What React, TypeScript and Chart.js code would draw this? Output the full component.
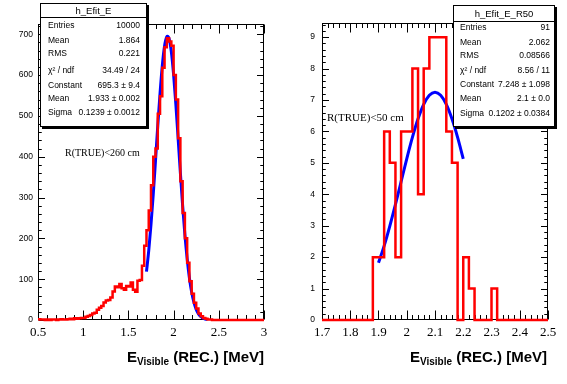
import React, { useEffect, useRef } from "react";
import { Chart, registerables } from "chart.js";

Chart.register(...registerables);

// ---------------- Left panel data ----------------
const leftBinLow = 0.5;
const leftBinWidth = 0.025;
const leftCounts = [
  2, 1, 1, 0, 1, 0, 1, 1, 0, 1,
  2, 1, 1, 2, 3, 2, 4, 3, 4, 5,
  5, 8, 10, 12, 16, 18, 25, 30, 34, 43,
  48, 49, 55, 70, 82, 80, 88, 78, 74, 83,
  82, 92, 74, 69, 96, 98, 133, 182, 220, 268,
  330, 400, 420, 505, 548, 618, 668, 690, 682, 672,
  600, 540, 445, 340, 262, 200, 140, 95, 64, 42,
  28, 16, 9, 5, 3, 1, 1, 0, 0, 0,
  0, 0, 0, 0, 0, 0, 0, 0, 0, 0,
  0, 0, 0, 0, 0, 0, 0, 0, 0, 0,
];
const leftFitX = [
  1.7, 1.725, 1.75, 1.775, 1.8, 1.825, 1.85, 1.875, 1.9, 1.925, 1.933, 1.95, 1.975, 2.0,
  2.025, 2.05, 2.075, 2.1, 2.125, 2.15, 2.175, 2.2, 2.225, 2.25, 2.275, 2.3, 2.325, 2.35, 2.375,
];
const leftFitY = [
  118.5, 170, 234, 308, 391, 476, 555, 623, 671, 694, 695.3, 689, 657, 601,
  528, 445, 360, 280, 209, 150, 103, 68, 43, 26, 15, 8.6, 4.7, 2.4, 1.2,
];
const leftXTicks = [0.5, 1, 1.5, 2, 2.5, 3];
const leftXTickLabels = ["0.5", "1", "1.5", "2", "2.5", "3"];
const leftYTicks = [0, 100, 200, 300, 400, 500, 600, 700];
const leftYTickLabels = ["0", "100", "200", "300", "400", "500", "600", "700"];
const leftStatTitle = "h_Efit_E";
const leftStatLabels = ["Entries", "Mean", "RMS", "χ² / ndf", "Constant", "Mean", "Sigma"];
const leftStatValues = ["10000", "1.864", "0.221", "34.49 / 24", "695.3 ± 9.4", "1.933 ± 0.002", "0.1239 ± 0.0012"];
const leftNote = "R(TRUE)<260 cm";

// ---------------- Right panel data ----------------
const rightBinLow = 1.7;
const rightBinWidth = 0.02;
const rightCounts = [
  0, 0, 0, 0, 0, 0, 0, 0, 0, 2,
  2, 6, 5, 2, 6, 6, 8, 4, 8, 9,
  9, 9, 6, 5, 0, 2, 1, 0, 0, 0,
  1, 0, 0, 0, 0, 0, 0, 0, 0, 0,
];
const rightFitX = [1.9, 1.92, 1.94, 1.96, 1.98, 2.0, 2.02, 2.04, 2.06, 2.08, 2.1, 2.12, 2.14, 2.16, 2.18, 2.2];
const rightFitY = [1.82, 2.36, 2.99, 3.68, 4.4, 5.13, 5.81, 6.4, 6.86, 7.15, 7.248, 7.15, 6.86, 6.4, 5.81, 5.13];
const rightXTicks = [1.7, 1.8, 1.9, 2.0, 2.1, 2.2, 2.3, 2.4, 2.5];
const rightXTickLabels = ["1.7", "1.8", "1.9", "2", "2.1", "2.2", "2.3", "2.4", "2.5"];
const rightYTicks = [0, 1, 2, 3, 4, 5, 6, 7, 8, 9];
const rightYTickLabels = ["0", "1", "2", "3", "4", "5", "6", "7", "8", "9"];
const rightStatTitle = "h_Efit_E_R50";
const rightStatLabels = ["Entries", "Mean", "RMS", "χ² / ndf", "Constant", "Mean", "Sigma"];
const rightStatValues = ["91", "2.062", "0.08566", "8.56 / 11", "7.248 ± 1.098", "2.1 ± 0.0", "0.1202 ± 0.0384"];
const rightNote = "R(TRUE)<50 cm";

const axisTitleMain = "E";
const axisTitleSub = "Visible";
const axisTitleRest = " (REC.) [MeV]";

// ---------------- helpers ----------------
function histPoints(low: number, width: number, counts: number[]) {
  const pts: { x: number; y: number }[] = [];
  for (let i = 0; i < counts.length; i++) {
    pts.push({ x: +(low + i * width).toFixed(6), y: counts[i] });
  }
  pts.push({ x: +(low + counts.length * width).toFixed(6), y: counts[counts.length - 1] });
  return pts;
}

const rootFrame = {
  id: "rootFrame",
  beforeDatasetsDraw(chart: any, _args: any, opts: any) {
    const { ctx, chartArea: a } = chart;
    const xs = chart.scales.x;
    const ys = chart.scales.y;
    ctx.save();
    ctx.strokeStyle = "#000";
    ctx.lineWidth = 1;
    const L = Math.round(a.left) + 0.5;
    const R = Math.round(a.right) - 0.5;
    const T = Math.round(a.top) + 0.5;
    const B = Math.round(a.bottom) - 0.5;
    ctx.strokeRect(L, T, R - L, B - T);
    ctx.beginPath();
    const nx = Math.round((xs.max - xs.min) / opts.xMinor);
    for (let i = 0; i <= nx; i++) {
      const v = xs.min + i * opts.xMinor;
      const major = opts.xMajor.some((m: number) => Math.abs(m - v) < opts.xMinor / 10);
      const len = major ? opts.xLen : opts.xLen / 2;
      const p = Math.round(xs.getPixelForValue(v)) + 0.5;
      ctx.moveTo(p, B);
      ctx.lineTo(p, B - len);
      ctx.moveTo(p, T);
      ctx.lineTo(p, T + len);
    }
    const ny = Math.floor((ys.max - ys.min) / opts.yMinor + 1e-6);
    for (let i = 0; i <= ny; i++) {
      const v = ys.min + i * opts.yMinor;
      const major = opts.yMajor.some((m: number) => Math.abs(m - v) < opts.yMinor / 10);
      const len = major ? opts.yLen : opts.yLen / 2;
      const p = Math.round(ys.getPixelForValue(v)) + 0.5;
      ctx.moveTo(L, p);
      ctx.lineTo(L + len, p);
      ctx.moveTo(R, p);
      ctx.lineTo(R - len, p);
    }
    ctx.stroke();
    ctx.restore();
  },
};

function makeConfig(p: {
  low: number; width: number; counts: number[]; fitX: number[]; fitY: number[];
  xMin: number; xMax: number; yMax: number;
  xTicks: number[]; xLabels: string[]; yTicks: number[]; yLabels: string[];
  xMinor: number; yMinor: number; padTop: number; axisW: number; padRight: number; yPad: number;
}): any {
  return {
    type: "scatter",
    data: {
      datasets: [
        {
          data: histPoints(p.low, p.width, p.counts),
          showLine: true,
          stepped: "before",
          borderColor: "#ff0000",
          borderWidth: 2.5,
          pointRadius: 0,
          clip: 4,
        },
        {
          data: p.fitX.map((x, i) => ({ x, y: p.fitY[i] })),
          showLine: true,
          borderColor: "#0000ff",
          borderWidth: 3,
          pointRadius: 0,
          cubicInterpolationMode: "monotone",
          clip: 4,
        },
      ],
    },
    options: {
      responsive: false,
      animation: false,
      events: [],
      layout: { padding: { top: p.padTop, right: p.padRight, left: 0, bottom: 0 } },
      plugins: {
        legend: { display: false },
        tooltip: { enabled: false },
        rootFrame: { xMinor: p.xMinor, yMinor: p.yMinor, xMajor: p.xTicks, yMajor: p.yTicks, xLen: 9, yLen: 6.5 },
      },
      scales: {
        x: {
          type: "linear",
          min: p.xMin,
          max: p.xMax,
          grid: { display: false, drawTicks: false },
          border: { display: false },
          afterBuildTicks: (s: any) => {
            s.ticks = p.xTicks.map((v) => ({ value: v }));
          },
          afterFit: (s: any) => {
            s.height = 64;
          },
          ticks: {
            autoSkip: false,
            maxRotation: 0,
            padding: 5,
            color: "#000",
            font: { family: "'Liberation Serif', 'Times New Roman', serif", size: 13 },
            callback: (v: number) => {
              const i = p.xTicks.findIndex((t) => Math.abs(t - v) < 1e-6);
              return i >= 0 ? p.xLabels[i] : "";
            },
          },
        },
        y: {
          type: "linear",
          min: 0,
          max: p.yMax,
          grid: { display: false, drawTicks: false },
          border: { display: false },
          afterBuildTicks: (s: any) => {
            s.ticks = p.yTicks.map((v) => ({ value: v }));
          },
          afterFit: (s: any) => {
            s.width = p.axisW;
          },
          ticks: {
            autoSkip: false,
            padding: p.yPad,
            color: "#000",
            font: { family: "'Liberation Sans', Arial, sans-serif", size: 8.5 },
            callback: (v: number) => {
              const i = p.yTicks.findIndex((t) => Math.abs(t - v) < 1e-6);
              return i >= 0 ? p.yLabels[i] : "";
            },
          },
        },
      },
    },
    plugins: [rootFrame],
  };
}

function ChartCanvas({ config, left, width }: { config: () => any; left: number; width: number }) {
  const ref = useRef<HTMLCanvasElement>(null);
  useEffect(() => {
    const chart = new Chart(ref.current as HTMLCanvasElement, config());
    return () => chart.destroy();
  }, []);
  return (
    <canvas
      ref={ref}
      width={width}
      height={384}
      style={{ position: "absolute", left, top: 0, width, height: 384, display: "block" }}
    />
  );
}

const sans = "'Liberation Sans', Arial, Helvetica, sans-serif";
const serif = "'Liberation Serif', 'Times New Roman', serif";

function StatBox(props: {
  left: number; top: number; width: number; height: number; titleH: number;
  title: string; labels: string[]; values: string[]; rowY: number[]; padL: number; padR: number;
}) {
  const { left, top, width, height, titleH, title, labels, values, rowY, padL, padR } = props;
  return (
    <div
      style={{
        position: "absolute",
        left,
        top,
        width,
        height,
        boxSizing: "border-box",
        border: "1px solid #000",
        background: "#fff",
        boxShadow: "2px 2px 0 #000",
        fontFamily: sans,
        fontSize: 8.5,
        color: "#000",
      }}
    >
      <div
        style={{
          position: "absolute",
          left: 0,
          top: 0,
          right: 0,
          height: titleH,
          borderBottom: "1px solid #000",
          textAlign: "center",
          lineHeight: titleH + "px",
          fontSize: 9.5,
        }}
      >
        {title}
      </div>
      {labels.map((lab, i) => (
        <div
          key={i}
          style={{
            position: "absolute",
            left: padL,
            right: padR,
            top: rowY[i] - top - 1 - 6,
            height: 12,
            lineHeight: "12px",
            whiteSpace: "nowrap",
          }}
        >
          <span style={{ position: "absolute", left: 0 }}>{lab}</span>
          <span style={{ position: "absolute", right: 0 }}>{values[i]}</span>
        </div>
      ))}
    </div>
  );
}

function AxisTitle({ right }: { right: number }) {
  return (
    <div
      style={{
        position: "absolute",
        left: 0,
        width: right,
        top: 349,
        textAlign: "right",
        fontFamily: sans,
        fontWeight: "bold",
        fontSize: 15,
        lineHeight: 1,
        whiteSpace: "nowrap",
        color: "#000",
      }}
    >
      {axisTitleMain}
      <span style={{ fontSize: 10, position: "relative", top: 3 }}>{axisTitleSub}</span>
      {axisTitleRest}
    </div>
  );
}

export default function App() {
  const leftConfig = () =>
    makeConfig({
      low: leftBinLow, width: leftBinWidth, counts: leftCounts, fitX: leftFitX, fitY: leftFitY,
      xMin: 0.5, xMax: 3, yMax: 725,
      xTicks: leftXTicks, xLabels: leftXTickLabels, yTicks: leftYTicks, yLabels: leftYTickLabels,
      xMinor: 0.1, yMinor: 20, padTop: 24, axisW: 38, padRight: 19, yPad: 5,
    });
  const rightConfig = () =>
    makeConfig({
      low: rightBinLow, width: rightBinWidth, counts: rightCounts, fitX: rightFitX, fitY: rightFitY,
      xMin: 1.7, xMax: 2.5, yMax: 9.45,
      xTicks: rightXTicks, xLabels: rightXTickLabels, yTicks: rightYTicks, yLabels: rightYTickLabels,
      xMinor: 0.02, yMinor: 0.2, padTop: 23, axisW: 39, padRight: 19, yPad: 7,
    });
  return (
    <div style={{ position: "absolute", left: 0, top: 0, width: 567, height: 384, background: "#fff", overflow: "hidden" }}>
      <ChartCanvas config={leftConfig} left={0} width={283} />
      <ChartCanvas config={rightConfig} left={283} width={284} />
      <div style={{ position: "absolute", left: 65, top: 147, fontFamily: serif, fontSize: 10, lineHeight: "12px", whiteSpace: "nowrap" }}>
        {leftNote}
      </div>
      <div style={{ position: "absolute", left: 327, top: 110, fontFamily: serif, fontSize: 11, lineHeight: "14px", whiteSpace: "nowrap" }}>
        {rightNote}
      </div>
      <StatBox
        left={40} top={3} width={107} height={124} titleH={13}
        title={leftStatTitle} labels={leftStatLabels} values={leftStatValues}
        rowY={[25.3, 40.3, 53.3, 70, 84.7, 98.3, 111.7]} padL={7} padR={6}
      />
      <StatBox
        left={453} top={5} width={102} height={122} titleH={15}
        title={rightStatTitle} labels={rightStatLabels} values={rightStatValues}
        rowY={[27.3, 41.7, 55, 70, 84, 98.3, 112.7]} padL={6} padR={4}
      />
      <AxisTitle right={264} />
      <div style={{ position: "absolute", left: 283, top: 0, width: 264, height: 384 }}>
        <AxisTitle right={264} />
      </div>
    </div>
  );
}
